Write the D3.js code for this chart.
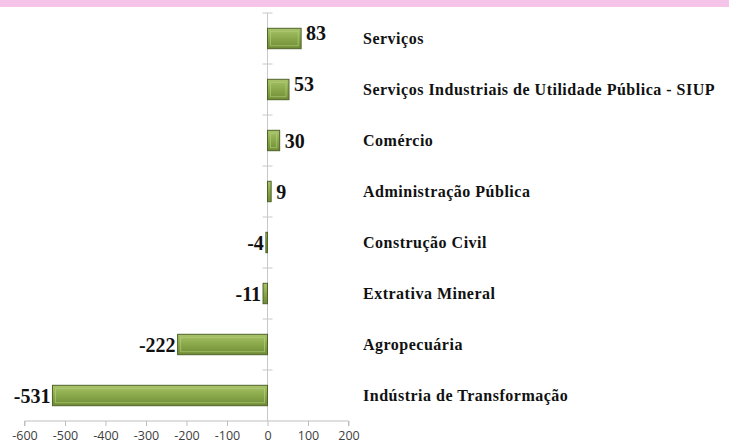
<!DOCTYPE html>
<html>
<head>
<meta charset="utf-8">
<script src="https://cdn.jsdelivr.net/npm/d3@7"></script>
<style>
  body { margin: 0; background: #fff; }
  .tick text { font-family: "Open Sans", "Liberation Sans", Arial, sans-serif; font-size: 12.5px; fill: #404040; }
  .cat-label { font-family: "Liberation Serif", "Times New Roman", serif; font-weight: bold; font-size: 16px; letter-spacing: 0.5px; fill: #111; }
  .val-label { font-family: "Liberation Serif", "Times New Roman", serif; font-weight: bold; font-size: 20px; fill: #111; }
</style>
</head>
<body>
<svg id="chart"></svg>
<script>
// Data
const categories = [
  "Serviços",
  "Serviços Industriais de Utilidade Pública - SIUP",
  "Comércio",
  "Administração Pública",
  "Construção Civil",
  "Extrativa Mineral",
  "Agropecuária",
  "Indústria de Transformação"
];
const values = [83, 53, 30, 9, -4, -11, -222, -531];
const xTicks = [-600, -500, -400, -300, -200, -100, 0, 100, 200];

const W = 729, H = 447;
const svg = d3.select("#chart").attr("width", W).attr("height", H);

// pink band on top
svg.append("rect").attr("x", 0).attr("y", 0).attr("width", W).attr("height", 7).attr("fill", "#f5c4e8");

const data = categories.map((c, i) => ({ cat: c, value: values[i] }));

const xScale = d3.scaleLinear().domain([-600, 200]).range([24.5, 348.5]);
const yScale = d3.scaleBand().domain(categories).range([13, 421]).paddingInner(0.6).paddingOuter(0.3);

// gradient for bars
const defs = svg.append("defs");
const grad = defs.append("linearGradient").attr("id", "barGrad").attr("x1", 0).attr("y1", 0).attr("x2", 0).attr("y2", 1);
grad.append("stop").attr("offset", "0%").attr("stop-color", "#a9c46b");
grad.append("stop").attr("offset", "45%").attr("stop-color", "#8cab4c");
grad.append("stop").attr("offset", "100%").attr("stop-color", "#6e8b35");

// X axis
const xAxis = svg.append("g")
  .attr("transform", "translate(0,421)")
  .call(d3.axisBottom(xScale).tickValues(xTicks).tickSize(5).tickPadding(5).tickFormat(d => String(d)));
xAxis.select(".domain").attr("stroke", "#bfbfbf").attr("d", `M${xScale(-600)},5V0H${xScale(200)}V5`);
xAxis.selectAll(".tick line").attr("stroke", "#bfbfbf");

// zero line with category ticks
const bandStep = yScale.step();
svg.append("line")
  .attr("x1", xScale(0)).attr("x2", xScale(0))
  .attr("y1", 13).attr("y2", 421)
  .attr("stroke", "#c8c8c8");
d3.range(0, categories.length).forEach(i => {
  svg.append("line")
    .attr("x1", xScale(0) - 5).attr("x2", xScale(0) + 5)
    .attr("y1", 13 + i * bandStep).attr("y2", 13 + i * bandStep)
    .attr("stroke", "#c8c8c8");
});

// bars
const bars = svg.append("g").selectAll("g").data(data).enter().append("g");
bars.append("rect")
  .attr("x", d => Math.min(xScale(0), xScale(d.value)))
  .attr("y", d => yScale(d.cat))
  .attr("width", d => Math.abs(xScale(d.value) - xScale(0)))
  .attr("height", yScale.bandwidth())
  .attr("fill", "url(#barGrad)")
  .attr("stroke", "#4f6228")
  .attr("stroke-width", 1);
// bevel inner highlight
bars.filter(d => Math.abs(xScale(d.value) - xScale(0)) > 8).append("rect")
  .attr("x", d => Math.min(xScale(0), xScale(d.value)) + 3)
  .attr("y", d => yScale(d.cat) + 3)
  .attr("width", d => Math.abs(xScale(d.value) - xScale(0)) - 6)
  .attr("height", yScale.bandwidth() - 6)
  .attr("fill", "none")
  .attr("stroke", "#b9d27e")
  .attr("stroke-opacity", 0.6)
  .attr("stroke-width", 1);

// value labels
bars.append("text")
  .attr("class", "val-label")
  .attr("x", d => d.value >= 0 ? xScale(d.value) + 5 : xScale(d.value) - 2)
  .attr("y", d => yScale(d.cat) + yScale.bandwidth() / 2 - (d.value > 40 ? 6 : 0))
  .attr("dy", "0.35em")
  .attr("text-anchor", d => d.value >= 0 ? "start" : "end")
  .text(d => d.value);

// category labels
svg.append("g").selectAll("text").data(data).enter().append("text")
  .attr("class", "cat-label")
  .attr("x", 363)
  .attr("y", d => yScale(d.cat) + yScale.bandwidth() / 2)
  .attr("dy", "0.35em")
  .text(d => d.cat);
</script>
</body>
</html>
